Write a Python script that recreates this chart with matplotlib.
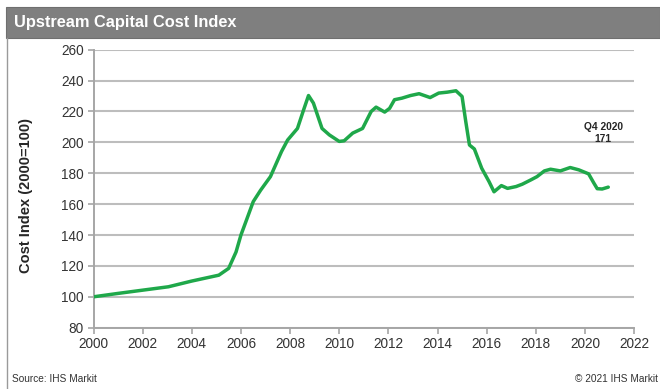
import matplotlib
matplotlib.use("Agg")
import matplotlib.pyplot as plt
from matplotlib.patches import Rectangle
from matplotlib.lines import Line2D

plt.rcParams['font.family'] = ['Liberation Sans', 'DejaVu Sans']

# cost index readings (2000 = 100), quarterly-ish
years = [2000.0, 2001.0, 2002.0, 2003.05, 2004.0, 2005.1, 2005.5, 2005.8, 2006.0,
         2006.2, 2006.5, 2006.8, 2007.2, 2007.65, 2007.9, 2008.3, 2008.55, 2008.75,
         2008.95, 2009.3, 2009.6, 2010.0, 2010.2, 2010.55, 2010.95, 2011.3, 2011.5,
         2011.85, 2012.05, 2012.25, 2012.55, 2012.9, 2013.25, 2013.7, 2014.05,
         2014.4, 2014.75, 2015.0, 2015.15, 2015.3, 2015.5, 2015.8, 2016.1, 2016.3,
         2016.6, 2016.85, 2017.2, 2017.45, 2017.8, 2018.05, 2018.35, 2018.6,
         2019.0, 2019.4, 2019.75, 2020.15, 2020.35, 2020.5, 2020.7, 2020.95]
index = [100.0, 102.2, 104.3, 106.5, 110.2, 114.0, 118.4, 129.0, 140.0,
         148.6, 161.6, 169.0, 177.8, 194.0, 201.5, 209.0, 221.0, 230.3,
         225.4, 209.0, 204.8, 200.6, 201.0, 206.0, 209.0, 220.0, 222.8,
         219.6, 222.0, 227.6, 228.6, 230.3, 231.5, 229.0, 231.9,
         232.5, 233.4, 229.7, 213.5, 198.3, 195.7, 183.2, 174.5, 168.0,
         172.0, 170.2, 171.4, 172.9, 175.7, 177.8, 181.5, 182.6,
         181.5, 183.7, 182.2, 179.6, 174.0, 170.0, 169.8, 171.0]

x_ticks = list(range(2000, 2023, 2))
y_ticks = list(range(80, 261, 20))
last_label = "Q4 2020\n171"

fig = plt.figure(figsize=(6.6, 3.89), dpi=100)

# header band with title
fig.patches.append(Rectangle((0.009, 0.903), 0.991, 0.079, transform=fig.transFigure,
                             facecolor='#7f7f7f', edgecolor='#6f6f6f', lw=0.8))
fig.text(0.021, 0.942, "Upstream Capital Cost Index", color='white', fontsize=11.8,
         fontweight='bold', va='center', ha='left')
fig.lines.append(Line2D([0.011, 0.011], [0.0, 0.903], transform=fig.transFigure,
                        color='#9a9a9a', lw=1.0))

ax = fig.add_axes([0.1417, 0.1576, 0.8190, 0.7147])
ax.plot(years, index, color='#1fa84a', lw=2.5, solid_capstyle='round',
        solid_joinstyle='round', zorder=3)

ax.set_xlim(2000, 2022)
ax.set_ylim(80, 260)
ax.set_xticks(x_ticks)
ax.set_yticks(y_ticks)
ax.grid(axis='y', color='#bdbdbd', lw=1.5)
ax.set_axisbelow(True)
for side in ['top', 'right']:
    ax.spines[side].set_visible(False)
for side in ['left', 'bottom']:
    ax.spines[side].set_color('#a6a6a6')
    ax.spines[side].set_linewidth(1.4)
ax.tick_params(axis='both', colors='#a6a6a6', labelcolor='#333333', labelsize=9.8,
               length=4, width=1.2, direction='out')
ax.tick_params(axis='y', pad=3)
ax.tick_params(axis='x', pad=3)
ax.set_ylabel("Cost Index (2000=100)", fontsize=10.5, fontweight='bold',
              color='#262626')
ax.yaxis.set_label_coords(-0.112, 0.477)

ax.text(2020.75, 199, last_label, ha='center', va='bottom', fontsize=7.4,
        fontweight='bold', color='#262626', linespacing=1.2)

fig.text(0.018, 0.026, "Source: IHS Markit", fontsize=7.3, color='#333333',
         ha='left', va='center')
fig.text(0.997, 0.026, "\u00a9 2021 IHS Markit", fontsize=7.3, color='#333333',
         ha='right', va='center')

fig.savefig("out.png", dpi=100, facecolor='white')
